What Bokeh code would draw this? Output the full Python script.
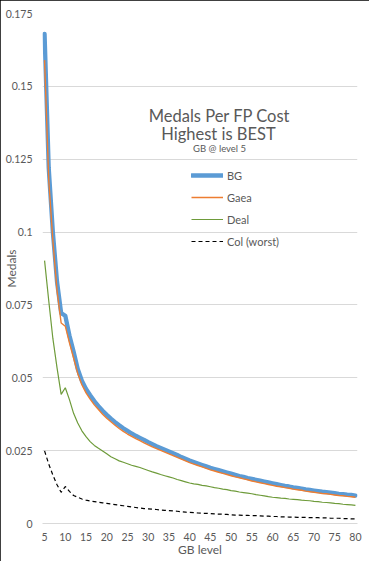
from bokeh.plotting import figure
from bokeh.models import (Range1d, FixedTicker, CustomJSTickFormatter, Legend,
                          LegendItem, Label, ColumnDataSource)
from bokeh.embed import file_html
from bokeh.resources import INLINE

# ---------------- data ----------------
levels = list(range(5, 81))

bg = [0.1680, 0.1220, 0.1000, 0.0830, 0.0722, 0.0713, 0.0645, 0.0590, 0.0530, 0.0490,
      0.0462, 0.0440, 0.0420, 0.0403, 0.0387, 0.0373, 0.0360, 0.0348, 0.0337, 0.0327,
      0.0318, 0.0309, 0.0301, 0.0294, 0.0287, 0.0279, 0.0272, 0.0265, 0.0259, 0.0253,
      0.0247, 0.0241, 0.0235, 0.0228, 0.0222, 0.0216, 0.0211, 0.0206, 0.0201, 0.0196,
      0.0191, 0.0187, 0.0183, 0.0179, 0.0175, 0.0171, 0.0167, 0.0163, 0.0160, 0.0156,
      0.0153, 0.0150, 0.0147, 0.0144, 0.0141, 0.0138, 0.0135, 0.0132, 0.0129, 0.0127,
      0.0124, 0.0122, 0.0120, 0.0117, 0.0115, 0.0113, 0.0111, 0.0109, 0.0108, 0.0106,
      0.0104, 0.0102, 0.0101, 0.0099, 0.0098, 0.0096]

gaea = [0.1590, 0.1180, 0.0970, 0.0800, 0.0688, 0.0677, 0.0620, 0.0568, 0.0515, 0.0476,
        0.0448, 0.0427, 0.0407, 0.0391, 0.0375, 0.0361, 0.0349, 0.0337, 0.0326, 0.0316,
        0.0307, 0.0299, 0.0291, 0.0284, 0.0277, 0.0270, 0.0263, 0.0257, 0.0251, 0.0245,
        0.0239, 0.0233, 0.0227, 0.0221, 0.0215, 0.0209, 0.0204, 0.0199, 0.0194, 0.0189,
        0.0184, 0.0180, 0.0176, 0.0172, 0.0168, 0.0164, 0.0160, 0.0157, 0.0153, 0.0150,
        0.0146, 0.0143, 0.0140, 0.0137, 0.0134, 0.0131, 0.0128, 0.0126, 0.0123, 0.0121,
        0.0118, 0.0116, 0.0114, 0.0111, 0.0109, 0.0107, 0.0105, 0.0103, 0.0102, 0.0100,
        0.0098, 0.0096, 0.0095, 0.0093, 0.0092, 0.0090]

deal = [0.0902, 0.0765, 0.0635, 0.0535, 0.0443, 0.0466, 0.0425, 0.0378, 0.0345, 0.0318,
        0.0298, 0.0281, 0.0268, 0.0258, 0.0249, 0.0239, 0.0229, 0.0222, 0.0215, 0.0210,
        0.0205, 0.0200, 0.0196, 0.0192, 0.0187, 0.0182, 0.0177, 0.0173, 0.0168, 0.0164,
        0.0160, 0.0156, 0.0151, 0.0147, 0.0143, 0.0139, 0.0136, 0.0134, 0.0131, 0.0129,
        0.0126, 0.0123, 0.0121, 0.0118, 0.0116, 0.0113, 0.0111, 0.0108, 0.0106, 0.0104,
        0.0102, 0.0099, 0.0097, 0.0095, 0.0092, 0.0090, 0.0089, 0.0087, 0.0086, 0.0084,
        0.0083, 0.0082, 0.0080, 0.0079, 0.0078, 0.0076, 0.0075, 0.0073, 0.0072, 0.0071,
        0.0069, 0.0068, 0.0066, 0.0065, 0.0064, 0.0062]

col = [0.0249, 0.0204, 0.0166, 0.0133, 0.0107, 0.0127, 0.0110, 0.0096, 0.0090, 0.0084,
       0.0080, 0.0077, 0.0075, 0.0073, 0.0071, 0.0069, 0.0067, 0.0065, 0.0063, 0.0061,
       0.0059, 0.0057, 0.0055, 0.0053, 0.0051, 0.0050, 0.0049, 0.0048, 0.0046, 0.0045,
       0.0044, 0.0043, 0.0042, 0.0040, 0.0039, 0.0038, 0.0037, 0.0036, 0.0035, 0.0035,
       0.0034, 0.0033, 0.0032, 0.0032, 0.0031, 0.0030, 0.0029, 0.0029, 0.0028, 0.0028,
       0.0027, 0.0027, 0.0026, 0.0025, 0.0025, 0.0024, 0.0024, 0.0023, 0.0023, 0.0022,
       0.0022, 0.0021, 0.0021, 0.0021, 0.0020, 0.0020, 0.0020, 0.0019, 0.0019, 0.0018,
       0.0018, 0.0018, 0.0017, 0.0017, 0.0016, 0.0016]

series_names = ["BG", "Gaea", "Deal", "Col (worst)"]
x_ticks = [5, 10, 15, 20, 25, 30, 35, 40, 45, 50, 55, 60, 65, 70, 75, 80]
y_ticks = [0, 0.025, 0.05, 0.075, 0.1, 0.125, 0.15, 0.175]
title_lines = ["Medals Per FP Cost", "Highest is BEST"]
subtitle = "GB @ level 5"
x_title = "GB level"
y_title = "Medals"

# ---------------- styling ----------------
FONT = "Lato"
TXT = "#595959"
GRID = "#d9d9d9"

src = ColumnDataSource(dict(x=levels, bg=bg, gaea=gaea, deal=deal, col=col))

p = figure(width=369, height=561, output_backend="svg", toolbar_location=None,
           x_range=Range1d(4.5, 80.5), y_range=Range1d(0, 0.175),
           min_border_left=38, min_border_right=12, min_border_top=13,
           min_border_bottom=38)
p.outline_line_color = None
p.background_fill_color = "white"
p.border_fill_color = "white"
p.styles = {"outline": "1px solid black", "outline-offset": "-1px"}

# grid
p.xgrid.grid_line_color = None
p.ygrid.grid_line_color = GRID
p.ygrid.grid_line_width = 1

# axes
p.xaxis.ticker = FixedTicker(ticks=x_ticks)
p.yaxis.ticker = FixedTicker(ticks=y_ticks)
p.yaxis.formatter = CustomJSTickFormatter(code="return String(parseFloat(tick.toFixed(3)));")
for ax in (p.xaxis[0], p.yaxis[0]):
    ax.major_tick_line_color = None
    ax.minor_tick_line_color = None
    ax.major_tick_out = 0
    ax.major_tick_in = 0
    ax.minor_tick_out = 0
    ax.major_label_text_font = FONT
    ax.major_label_text_font_size = "10.5px"
    ax.major_label_text_color = TXT
    ax.axis_label_text_font = FONT
    ax.axis_label_text_font_size = "12px"
    ax.axis_label_text_font_style = "normal"
    ax.axis_label_text_color = TXT
p.xaxis.axis_line_color = GRID
p.yaxis.axis_line_color = None
p.xaxis.major_label_standoff = 9
p.yaxis.major_label_standoff = 10
p.xaxis.axis_label = x_title
p.yaxis.axis_label = y_title
p.xaxis.axis_label_standoff = -2
p.yaxis.axis_label_standoff = -16

# lines (BG drawn first so the thin lines sit on top)
r_bg = p.line("x", "bg", source=src, line_color="#5B9BD5", line_width=4.3,
              line_cap="round", line_join="round")
r_gaea = p.line("x", "gaea", source=src, line_color="#ED7D31", line_width=1.4)
r_deal = p.line("x", "deal", source=src, line_color="#6E9B3A", line_width=1.2)
r_col = p.line("x", "col", source=src, line_color="black", line_width=1.2,
               line_dash="4 3")

legend = Legend(items=[LegendItem(label=n, renderers=[r]) for n, r in
                       zip(series_names, [r_bg, r_gaea, r_deal, r_col])],
                location=(149, 271), glyph_width=32, glyph_height=22,
                label_height=22, spacing=0, padding=0, margin=0,
                label_standoff=4, border_line_color=None,
                background_fill_alpha=0, label_text_font=FONT,
                label_text_font_size="11px", label_text_color=TXT)
p.add_layout(legend)

# in-plot titles
p.add_layout(Label(x=177, y=408, x_units="screen", y_units="screen",
                   text=title_lines[0], text_align="center",
                   text_baseline="alphabetic", text_font=FONT,
                   text_font_size="16.5px", text_color=TXT))
p.add_layout(Label(x=176, y=390, x_units="screen", y_units="screen",
                   text=title_lines[1], text_align="center",
                   text_baseline="alphabetic", text_font=FONT,
                   text_font_size="16.5px", text_color=TXT))
p.add_layout(Label(x=177, y=375.5, x_units="screen", y_units="screen",
                   text=subtitle, text_align="center",
                   text_baseline="alphabetic", text_font=FONT,
                   text_font_size="9.5px", text_color=TXT))

open("out.html", "w").write(file_html(p, INLINE))
